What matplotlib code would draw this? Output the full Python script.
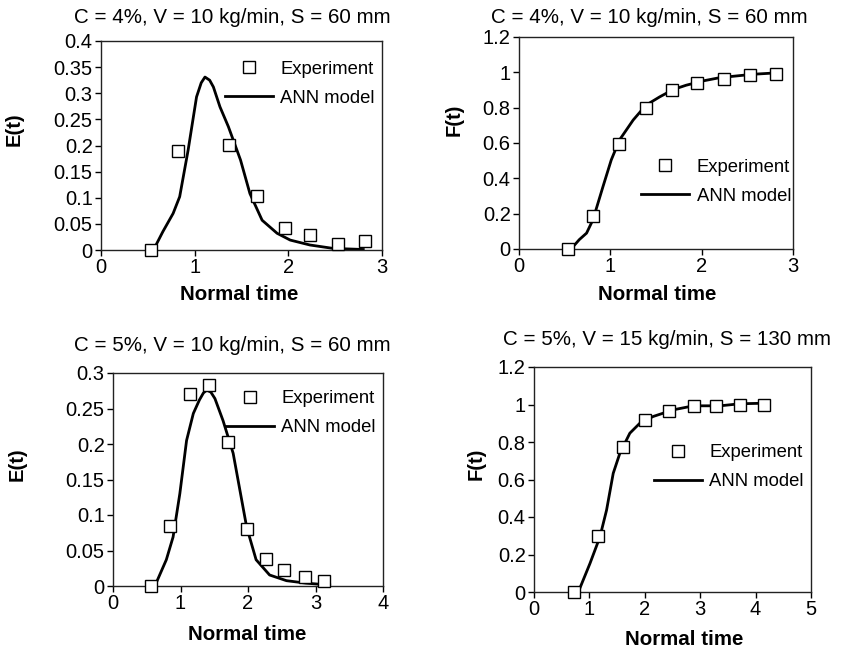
import matplotlib
matplotlib.use("Agg")
import matplotlib.pyplot as plt

plt.rcParams['font.family'] = ['Liberation Sans', 'DejaVu Sans']

W, H = 841, 651

# ---------------- data ----------------
titles = ["C = 4%, V = 10 kg/min, S = 60 mm",
          "C = 4%, V = 10 kg/min, S = 60 mm",
          "C = 5%, V = 10 kg/min, S = 60 mm",
          "C = 5%, V = 15 kg/min, S = 130 mm"]
ylabels = ["E(t)", "F(t)", "E(t)", "F(t)"]
xlabel = "Normal time"

# Panel 1: E(t)
p1_exp_x = [0.53, 0.82, 1.37, 1.67, 1.96, 2.23, 2.53, 2.82]
p1_exp_y = [0.0, 0.190, 0.201, 0.104, 0.043, 0.029, 0.012, 0.018]
p1_ann_x = [0.56, 0.66, 0.77, 0.84, 0.93, 1.02, 1.07, 1.11, 1.16, 1.20, 1.27, 1.36,
            1.49, 1.59, 1.72, 1.88, 2.02, 2.23, 2.48, 2.80]
p1_ann_y = [0.0, 0.035, 0.070, 0.102, 0.191, 0.293, 0.320, 0.331, 0.325, 0.312, 0.274,
            0.236, 0.172, 0.108, 0.057, 0.032, 0.019, 0.0096, 0.003, 0.001]

# Panel 2: F(t)
p2_exp_x = [0.54, 0.81, 1.10, 1.39, 1.67, 1.95, 2.24, 2.53, 2.81]
p2_exp_y = [0.0, 0.184, 0.592, 0.799, 0.899, 0.942, 0.965, 0.985, 0.993]
p2_ann_x = [0.57, 0.66, 0.74, 0.81, 0.92, 1.01, 1.10, 1.25, 1.39, 1.54,
            1.69, 1.83, 2.02, 2.20, 2.56, 2.82]
p2_ann_y = [0.0, 0.053, 0.090, 0.166, 0.354, 0.504, 0.617, 0.730, 0.814, 0.861,
            0.903, 0.927, 0.952, 0.970, 0.989, 0.997]

# Panel 3: E(t)
p3_exp_x = [0.57, 0.84, 1.14, 1.42, 1.71, 1.98, 2.26, 2.54, 2.84, 3.13]
p3_exp_y = [0.0, 0.085, 0.271, 0.283, 0.203, 0.080, 0.038, 0.022, 0.013, 0.007]
p3_ann_x = [0.62, 0.79, 0.89, 0.99, 1.09, 1.19, 1.28, 1.34, 1.39, 1.45, 1.51, 1.63,
            1.78, 1.88, 1.98, 2.12, 2.32, 2.57, 2.86, 3.21]
p3_ann_y = [0.0, 0.037, 0.069, 0.130, 0.205, 0.243, 0.262, 0.272, 0.276, 0.273, 0.264, 0.233,
            0.187, 0.135, 0.083, 0.037, 0.0155, 0.0075, 0.004, 0.0014]

# Panel 4: F(t)
p4_exp_x = [0.72, 1.16, 1.60, 2.01, 2.44, 2.88, 3.29, 3.72, 4.16]
p4_exp_y = [0.0, 0.298, 0.772, 0.918, 0.966, 0.993, 0.990, 0.998, 0.998]
p4_ann_x = [0.80, 1.01, 1.19, 1.31, 1.43, 1.55, 1.73, 1.91, 2.15, 2.52,
            2.88, 3.36, 3.72, 4.20]
p4_ann_y = [0.0, 0.152, 0.294, 0.437, 0.633, 0.740, 0.847, 0.900, 0.936, 0.972,
            0.993, 0.993, 1.004, 1.007]

exp_x = [p1_exp_x, p2_exp_x, p3_exp_x, p4_exp_x]
exp_y = [p1_exp_y, p2_exp_y, p3_exp_y, p4_exp_y]
ann_x = [p1_ann_x, p2_ann_x, p3_ann_x, p4_ann_x]
ann_y = [p1_ann_y, p2_ann_y, p3_ann_y, p4_ann_y]

xlims = [(0, 3), (0, 3), (0, 4), (0, 5)]
ylims = [(0, 0.4), (0, 1.2), (0, 0.3), (0, 1.2)]
xticks = [[0, 1, 2, 3], [0, 1, 2, 3], [0, 1, 2, 3, 4], [0, 1, 2, 3, 4, 5]]
yticks = [[0, 0.05, 0.1, 0.15, 0.2, 0.25, 0.3, 0.35, 0.4],
          [0, 0.2, 0.4, 0.6, 0.8, 1, 1.2],
          [0, 0.05, 0.1, 0.15, 0.2, 0.25, 0.3],
          [0, 0.2, 0.4, 0.6, 0.8, 1, 1.2]]
yticklabels = [["0", "0.05", "0.1", "0.15", "0.2", "0.25", "0.3", "0.35", "0.4"],
               ["0", "0.2", "0.4", "0.6", "0.8", "1", "1.2"],
               ["0", "0.05", "0.1", "0.15", "0.2", "0.25", "0.3"],
               ["0", "0.2", "0.4", "0.6", "0.8", "1", "1.2"]]

# ---------------- layout (pixels) ----------------
boxes = [(101, 41, 382, 250), (519, 37, 793, 249),
         (113, 373, 383, 586), (534, 367, 811, 592)]
title_pos = [(232, 23), (649, 23), (232, 351), (667, 345)]
xlabel_pos = [(239, 300), (657, 300), (247, 640), (684, 645)]
ylabel_pos = [(14, 129), (454, 120), (17, 464), (476, 464)]
legend_anchor = [(1.0, 0.94), (1.02, 0.46), (1.0, 0.955), (1.0, 0.69)]

fig = plt.figure(figsize=(W / 100, H / 100), dpi=100)

def fx(px):
    return px / W

def fy(py):
    return 1 - py / H

for i in range(4):
    l, t, r, b = boxes[i]
    ax = fig.add_axes([fx(l), fy(b), (r - l) / W, (b - t) / H])
    ax.plot(ann_x[i], ann_y[i], color='black', lw=2.0, label='ANN model',
            solid_joinstyle='round', zorder=2)
    ax.plot(exp_x[i], exp_y[i], linestyle='none', marker='s', markersize=8,
            markerfacecolor='white', markeredgecolor='black',
            markeredgewidth=1.0, label='Experiment', zorder=3, clip_on=False)
    ax.set_xlim(*xlims[i])
    ax.set_ylim(*ylims[i])
    ax.set_xticks(xticks[i])
    ax.set_yticks(yticks[i])
    ax.set_yticklabels(yticklabels[i])
    ax.tick_params(direction='out', length=4, width=1, labelsize=14.5,
                   pad=2, colors='black')
    for s in ax.spines.values():
        s.set_linewidth(1.0)
        s.set_color('#222222')
    h, lb = ax.get_legend_handles_labels()
    leg = ax.legend(h[::-1], lb[::-1], loc='upper right',
                    bbox_to_anchor=legend_anchor[i], frameon=False,
                    fontsize=13.3, handlelength=2.6, handletextpad=0.4,
                    labelspacing=0.65, borderaxespad=0.0)

    fig.text(fx(title_pos[i][0]), fy(title_pos[i][1]), titles[i],
             ha='center', va='baseline', fontsize=14.8)
    fig.text(fx(xlabel_pos[i][0]), fy(xlabel_pos[i][1]), xlabel,
             ha='center', va='baseline', fontsize=14.8, fontweight='bold')
    fig.text(fx(ylabel_pos[i][0]), fy(ylabel_pos[i][1]), ylabels[i],
             ha='center', va='center', rotation=90, fontsize=14.5,
             fontweight='bold')

fig.savefig("out.png", dpi=100)
